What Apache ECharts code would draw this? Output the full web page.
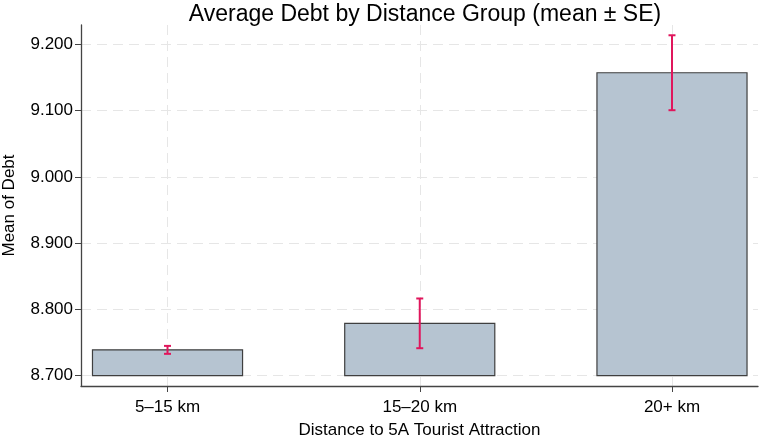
<!DOCTYPE html>
<html>
<head>
<meta charset="utf-8">
<script src="https://cdn.jsdelivr.net/npm/echarts@6/dist/echarts.min.js"></script>
<style>
  html, body { margin: 0; padding: 0; background: #fff; }
  #chart { width: 760px; height: 435px; }
</style>
</head>
<body>
<div id="chart"></div>
<script>
// data
const categories = ["5\u201315 km", "15\u201320 km", "20+ km"];
const means = [8.739, 8.779, 9.157];
const stdErrs = [0.006, 0.0375, 0.0565];
const yTicks = [8.7, 8.8, 8.9, 9.0, 9.1, 9.2];
const barBase = 8.7;

const FONT = "Liberation Sans, Arial, sans-serif";
const BAR_W = 0.595; // in category units

const chart = echarts.init(document.getElementById("chart"));

const barData = means.map((m, i) => [i, m]);
const errData = means.map((m, i) => [i, m - stdErrs[i], m + stdErrs[i]]);

const option = {
  animation: false,
  textStyle: { fontFamily: FONT },
  title: {
    text: "Average Debt by Distance Group (mean \u00b1 SE)",
    left: 420,
    textAlign: "center",
    top: -2,
    textStyle: { fontFamily: FONT, fontSize: 23, fontWeight: "normal", color: "#000" },
  },
  grid: { left: 81, right: 2, top: 25, bottom: 49, outerBoundsMode: "none", containLabel: false },
  xAxis: {
    type: "value",
    min: -0.343,
    max: 2.341,
    name: "Distance to 5A Tourist Attraction",
    nameLocation: "middle",
    nameGap: 36,
    nameTextStyle: { fontFamily: FONT, fontSize: 17, color: "#000" },
    axisLine: { show: true, onZero: false, lineStyle: { color: "#444", width: 1.3 } },
    axisTick: { show: true, customValues: [0, 1, 2], length: 6, lineStyle: { color: "#444" } },
    axisLabel: {
      customValues: [0, 1, 2],
      formatter: (v) => categories[Math.round(v)],
      fontFamily: FONT,
      fontSize: 17,
      color: "#000",
      margin: 13,
    },
    splitLine: {
      show: true,
      lineStyle: { color: "#e6e6e6", type: [10, 6], width: 1 },
    },
  },
  yAxis: {
    type: "value",
    min: 8.6845,
    max: 9.229,
    name: "Mean of Debt",
    nameLocation: "middle",
    nameGap: 63,
    nameTextStyle: { fontFamily: FONT, fontSize: 17, color: "#000" },
    axisLine: { show: true, onZero: false, lineStyle: { color: "#444", width: 1.3 } },
    axisTick: { show: true, customValues: yTicks, length: 6, lineStyle: { color: "#444" } },
    axisLabel: {
      customValues: yTicks,
      formatter: (v) => v.toFixed(3),
      fontFamily: FONT,
      fontSize: 17,
      color: "#000",
      margin: 8,
    },
    splitLine: {
      show: true,
      lineStyle: { color: "#e6e6e6", type: [10, 6], width: 1 },
    },
  },
  series: [
    {
      type: "custom",
      data: barData,
      z: 2,
      renderItem: (params, api) => {
        const i = api.value(0);
        const top = api.coord([i - BAR_W / 2, api.value(1)]);
        const bot = api.coord([i + BAR_W / 2, barBase]);
        return {
          type: "rect",
          shape: { x: top[0], y: top[1], width: bot[0] - top[0], height: bot[1] - top[1] },
          style: { fill: "#b6c4d1", stroke: "#3f3f3f", lineWidth: 1.2 },
        };
      },
    },
    {
      type: "custom",
      data: errData,
      z: 3,
      renderItem: (params, api) => {
        const i = api.value(0);
        const lo = api.coord([i, api.value(1)]);
        const hi = api.coord([i, api.value(2)]);
        const cap = 3.5;
        const st = { stroke: "#e0165c", lineWidth: 2 };
        return {
          type: "group",
          children: [
            { type: "line", shape: { x1: lo[0], y1: lo[1], x2: hi[0], y2: hi[1] }, style: st },
            { type: "line", shape: { x1: lo[0] - cap, y1: lo[1], x2: lo[0] + cap, y2: lo[1] }, style: st },
            { type: "line", shape: { x1: hi[0] - cap, y1: hi[1], x2: hi[0] + cap, y2: hi[1] }, style: st },
          ],
        };
      },
    },
  ],
};

chart.setOption(option);
</script>
</body>
</html>
